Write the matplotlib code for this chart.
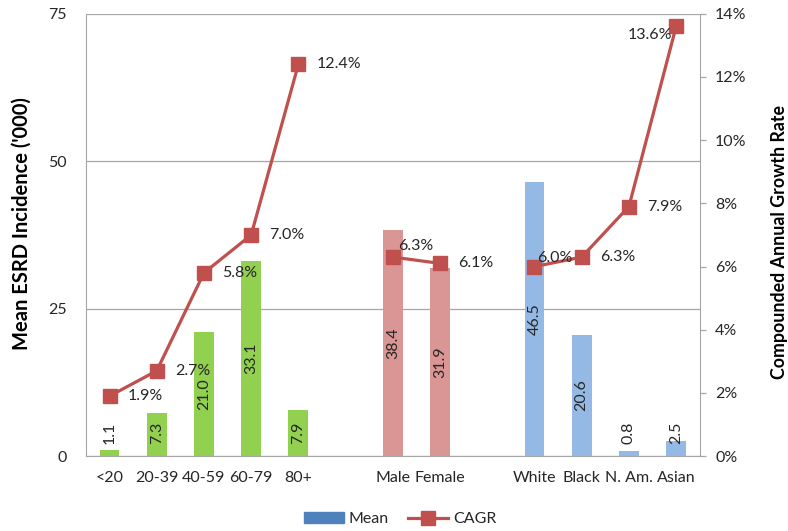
import numpy as np
import matplotlib
matplotlib.use('Agg')
import matplotlib.pyplot as plt
from matplotlib.lines import Line2D
from matplotlib.patches import Patch
from matplotlib.ticker import FuncFormatter, MultipleLocator

# Mean ESRD incidence ('000) and compounded annual growth rate by group
categories = ['<20', '20-39', '40-59', '60-79', '80+', '',
              'Male', 'Female', '',
              'White', 'Black', 'N. Am.', 'Asian']
groups = ['age'] * 5 + [None] + ['gender'] * 2 + [None] + ['race'] * 4
mean_incidence = [1.1, 7.3, 21.0, 33.1, 7.9, np.nan,
                  38.4, 31.9, np.nan,
                  46.5, 20.6, 0.8, 2.5]
cagr = [1.9, 2.7, 5.8, 7.0, 12.4, np.nan,
        6.3, 6.1, np.nan,
        6.0, 6.3, 7.9, 13.6]

group_colors = {'age': '#92D050', 'gender': '#DA9694', 'race': '#95B9E5'}
line_color = '#C0504D'
text_color = '#262626'
grid_color = '#A6A6A6'

plt.rcParams['font.family'] = ['Lato', 'DejaVu Sans']
plt.rcParams['font.size'] = 11.5

fig = plt.figure(figsize=(7.88, 5.31), dpi=100)
ax = fig.add_axes([0.109, 0.141, 0.779, 0.833])
ax2 = ax.twinx()

x = np.arange(len(categories))
bar_colors = [group_colors.get(g, 'none') for g in groups]
heights = np.nan_to_num(mean_incidence)
ax.bar(x, heights, width=0.42, color=bar_colors, zorder=2)

# value labels, rotated, centred in the bar (lifted for very short bars)
for xi, v in zip(x, mean_incidence):
    if np.isnan(v):
        continue
    ax.text(xi, max(v / 2, 4.0), f'{v:.1f}', rotation=90, ha='center',
            va='center', color=text_color, fontsize=11.5, zorder=3)

ax.set_xlim(-0.5, len(categories) - 0.5)
ax.set_ylim(0, 75)
ax.yaxis.set_major_locator(MultipleLocator(25))
ax.grid(axis='y', color=grid_color, linewidth=0.9, zorder=0)
ax.set_axisbelow(True)
ax.set_xticks(x)
ax.set_xticklabels(categories, color=text_color)
ax.tick_params(axis='x', length=0, pad=11)
ax.tick_params(axis='y', length=0, pad=14, colors=text_color)
ax.set_ylabel("Mean ESRD Incidence ('000)", fontsize=14.5, fontweight='bold',
              color='black')
ax.yaxis.set_label_coords(-0.088, 0.525)
for side in ['top', 'right']:
    ax.spines[side].set_visible(False)
for side in ['left', 'bottom']:
    ax.spines[side].set_color(grid_color)

# CAGR line; NaN gaps split it into one segment per group
rate = np.array(cagr) / 100
ax2.plot(x, rate, color=line_color, linewidth=2.3, marker='s',
         markersize=10.5, zorder=4)
ax2.set_ylim(0, 0.14)
ax2.yaxis.set_major_locator(MultipleLocator(0.02))
ax2.yaxis.set_major_formatter(FuncFormatter(lambda v, _: f'{v * 100:.0f}%'))
ax2.tick_params(axis='y', length=4, width=0.9, pad=7, colors=text_color)
ax2.tick_params(axis='y', color=grid_color)
ax2.set_ylabel('Compounded Annual Growth Rate', fontsize=12.8,
               fontweight='bold', color='black')
ax2.yaxis.set_label_coords(1.116, 0.484)
for side in ['top', 'left', 'bottom']:
    ax2.spines[side].set_visible(False)
ax2.spines['right'].set_color(grid_color)

label_offsets = {6: (4, 8), 9: (2, 6), 12: (-3, -6)}
for xi, c in zip(x, cagr):
    if np.isnan(c):
        continue
    dx, dy = label_offsets.get(xi, (13, 0))
    ha = 'right' if dx < 0 else 'left'
    ax2.annotate(f'{c:.1f}%', (xi, c / 100), xytext=(dx, dy),
                 textcoords='offset points', ha=ha, va='center',
                 color=text_color, fontsize=11.5, zorder=5)

handles = [Patch(color='#4F81BD'),
           Line2D([], [], color=line_color, linewidth=2.3, marker='s',
                  markersize=10.5)]
fig.legend(handles, ['Mean', 'CAGR'], loc='center', ncol=2,
           bbox_to_anchor=(0.508, 0.022), frameon=False, handlelength=2.5,
           handletextpad=0.3, columnspacing=1.2, labelcolor=text_color)

fig.savefig('out.png', dpi=100)
